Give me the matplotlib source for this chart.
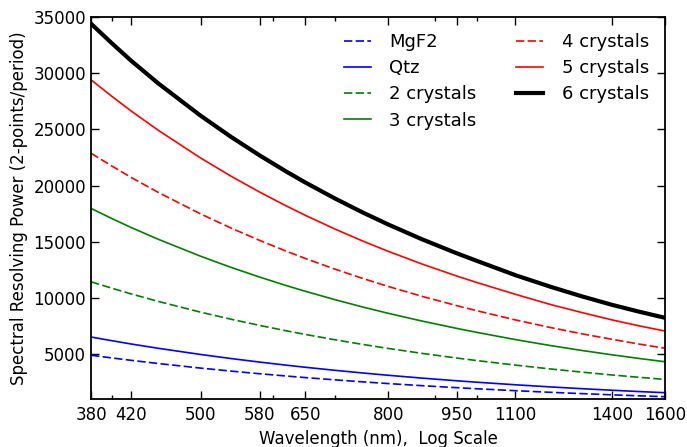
import matplotlib
matplotlib.use("Agg")
import matplotlib.pyplot as plt
from matplotlib.ticker import FixedLocator, NullFormatter, FixedFormatter

wavelength = [380, 400, 420, 450, 500, 540, 580, 620, 650, 700, 750,
              800, 870, 950, 1000, 1100, 1200, 1300, 1400, 1500, 1600]

mgf2 = [4910, 4672, 4457, 4168, 3764, 3494, 3261, 3057, 2920, 2718, 2542,
        2388, 2202, 2022, 1924, 1754, 1612, 1492, 1388, 1298, 1220]
qtz = [6530, 6207, 5911, 5523, 4976, 4611, 4297, 4022, 3838, 3567, 3331,
       3125, 2876, 2636, 2505, 2280, 2092, 1932, 1795, 1677, 1575]
crystals2 = [11440, 10879, 10368, 9691, 8740, 8105, 7558, 7079, 6758, 6285, 5873,
             5513, 5078, 4658, 4429, 4030, 3690, 3405, 3155, 2945, 2755]
crystals3 = [17970, 17086, 16279, 15214, 13716, 12716, 11855, 11101, 10596, 9852, 9204,
             8638, 7954, 7294, 6934, 6300, 5775, 5330, 4950, 4620, 4330]
crystals4 = [22880, 21758, 20736, 19382, 17480, 16210, 15116, 14158, 13516, 12570, 11746,
             11026, 10156, 9316, 8858, 8050, 7380, 6810, 6330, 5900, 5530]
crystals5 = [29410, 27965, 26647, 24905, 22456, 20821, 19413, 18180, 17354, 16137, 15077,
             14151, 13032, 11952, 11363, 10330, 9430, 8700, 8060, 7520, 7060]
crystals6 = [34400, 32690, 31120, 29073, 26220, 24315, 22674, 21237, 20274, 18855, 17619,
             16539, 15234, 13974, 13287, 12030, 11010, 10140, 9400, 8780, 8240]

xticks = [380, 420, 500, 580, 650, 800, 950, 1100, 1400, 1600]
xminor = [400, 600, 700, 900, 1000]
yticks = [5000, 10000, 15000, 20000, 25000, 30000, 35000]

plt.rcParams['font.family'] = ['DejaVu Sans']
plt.rcParams['font.size'] = 12

fig = plt.figure(figsize=(6.87, 4.47), dpi=100)
ax = fig.add_axes([0.1325, 0.107, 0.8355, 0.855])

dash = (5, 2)
ax.plot(wavelength, mgf2, color='b', lw=1.2, dashes=dash, label='MgF2')
ax.plot(wavelength, qtz, color='b', lw=1.2, label='Qtz')
ax.plot(wavelength, crystals2, color='g', lw=1.2, dashes=dash, label='2 crystals')
ax.plot(wavelength, crystals3, color='g', lw=1.2, label='3 crystals')
ax.plot(wavelength, crystals4, color='r', lw=1.2, dashes=dash, label='4 crystals')
ax.plot(wavelength, crystals5, color='r', lw=1.2, label='5 crystals')
ax.plot(wavelength, crystals6, color='k', lw=3, label='6 crystals')

ax.set_xscale('log')
ax.set_xlim(380, 1600)
ax.set_ylim(1000, 35000)
ax.xaxis.set_major_locator(FixedLocator(xticks))
ax.xaxis.set_major_formatter(FixedFormatter([str(t) for t in xticks]))
ax.xaxis.set_minor_locator(FixedLocator(xminor))
ax.xaxis.set_minor_formatter(NullFormatter())
ax.set_yticks(yticks)

ax.tick_params(which='both', direction='in', top=True, right=True, labelsize=12)
ax.tick_params(which='major', length=6, width=1)
ax.tick_params(which='minor', length=3, width=1)
ax.tick_params(axis='x', which='major', pad=5)
for s in ax.spines.values():
    s.set_linewidth(1.3)

ax.set_xlabel('Wavelength (nm),  Log Scale', fontsize=12)
ax.set_ylabel('Spectral Resolving Power (2-points/period)', fontsize=12)

ax.legend(loc='upper right', ncol=2, frameon=False, fontsize=13,
          handlelength=1.5, handletextpad=1.0, columnspacing=2.2,
          labelspacing=0.45, borderaxespad=0.5)

fig.savefig('out.png', dpi=100)
